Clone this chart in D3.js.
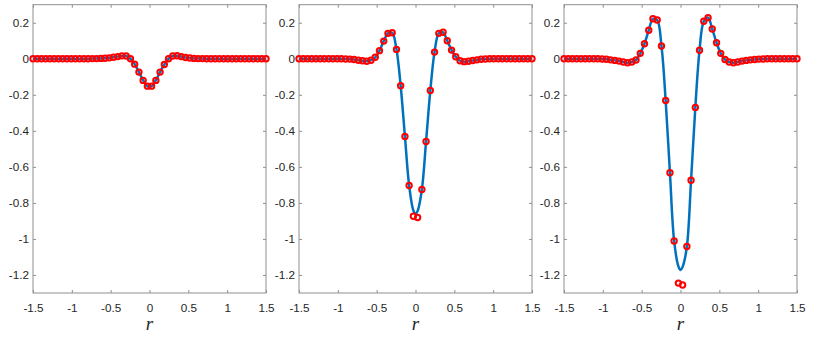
<!DOCTYPE html>
<html>
<head>
<meta charset="utf-8">
<script src="https://cdn.jsdelivr.net/npm/d3@7"></script>
<style>
  html, body { margin: 0; padding: 0; background: #fff; }
  svg { display: block; }
</style>
</head>
<body>
<svg id="chart" width="830" height="346"></svg>
<script>
// ---------- DATA ----------
const xTicks = [-1.5, -1, -0.5, 0, 0.5, 1, 1.5];
const xTickLabels = ["-1.5", "-1", "-0.5", "0", "0.5", "1", "1.5"];
const yTicks = [0.2, 0, -0.2, -0.4, -0.6, -0.8, -1, -1.2];
const yTickLabels = ["0.2", "0", "-0.2", "-0.4", "-0.6", "-0.8", "-1", "-1.2"];
const xLabel = "r";

// sample points (markers)
const xDots = [
  -1.500, -1.445, -1.391, -1.336, -1.282, -1.227, -1.173, -1.118, -1.064, -1.009,
  -0.955, -0.900, -0.845, -0.791, -0.736, -0.682, -0.627, -0.573, -0.518, -0.464,
  -0.409, -0.355, -0.300, -0.245, -0.191, -0.136, -0.082, -0.027, 0.027, 0.082,
  0.136, 0.191, 0.245, 0.300, 0.355, 0.409, 0.464, 0.518, 0.573, 0.627,
  0.682, 0.736, 0.791, 0.845, 0.900, 0.955, 1.009, 1.064, 1.118, 1.173,
  1.227, 1.282, 1.336, 1.391, 1.445, 1.500
];
const dotsA = [
  0, 0, 0, 0, 0, 0, 0, 0, 0, 0,
  0, 0, 0, 0, 0.001, 0.001, 0.002, 0.003, 0.005, 0.008,
  0.012, 0.016, 0.015, 0.000, -0.030, -0.074, -0.120, -0.152, -0.152, -0.120,
  -0.074, -0.032, 0.000, 0.015, 0.017, 0.012, 0.007, 0.004, 0.002, 0.001,
  0.001, 0, 0, 0, 0, 0, 0, 0, 0, 0,
  0, 0, 0, 0, 0, 0
];
const dotsB = [
  0, 0, 0, 0, 0, 0, 0, 0, 0, 0,
  0, -0.001, -0.002, -0.004, -0.008, -0.011, -0.014, -0.008, 0.008, 0.045,
  0.098, 0.141, 0.144, 0.052, -0.150, -0.431, -0.703, -0.874, -0.881, -0.726,
  -0.459, -0.176, 0.037, 0.141, 0.147, 0.100, 0.048, 0.011, -0.011, -0.016,
  -0.014, -0.010, -0.006, -0.003, -0.001, 0, 0, 0, 0, 0,
  0, 0, 0, 0, 0, 0
];
const dotsC = [
  0, 0, 0, 0, 0, 0, 0, 0, 0, -0.001,
  -0.003, -0.006, -0.009, -0.013, -0.018, -0.022, -0.018, -0.007, 0.030, 0.083,
  0.158, 0.222, 0.215, 0.071, -0.232, -0.633, -1.011, -1.245, -1.256, -1.042,
  -0.674, -0.270, 0.047, 0.208, 0.228, 0.165, 0.089, 0.030, -0.004, -0.018,
  -0.022, -0.018, -0.013, -0.009, -0.006, -0.004, -0.002, -0.001, 0, 0,
  0, 0, 0, 0, 0, 0
];

// continuous curve (line)
const xLine = [
  -1.500, -1.445, -1.391, -1.336, -1.282, -1.227, -1.173, -1.118, -1.064, -1.009,
  -0.955, -0.900, -0.845, -0.791, -0.736, -0.682, -0.627, -0.573, -0.518, -0.464,
  -0.409, -0.355, -0.300, -0.245, -0.191, -0.136, -0.082, -0.027, 0.000, 0.027, 0.082,
  0.136, 0.191, 0.245, 0.300, 0.355, 0.409, 0.464, 0.518, 0.573, 0.627,
  0.682, 0.736, 0.791, 0.845, 0.900, 0.955, 1.009, 1.064, 1.118, 1.173,
  1.227, 1.282, 1.336, 1.391, 1.445, 1.500
];
const lineA = [
  0, 0, 0, 0, 0, 0, 0, 0, 0, 0,
  0, 0, 0, 0, 0.001, 0.001, 0.002, 0.003, 0.005, 0.008,
  0.012, 0.016, 0.015, 0.000, -0.030, -0.074, -0.120, -0.152, -0.156, -0.152, -0.120,
  -0.074, -0.032, 0.000, 0.015, 0.017, 0.012, 0.007, 0.004, 0.002, 0.001,
  0.001, 0, 0, 0, 0, 0, 0, 0, 0, 0,
  0, 0, 0, 0, 0, 0
];
const lineB = [
  0, 0, 0, 0, 0, 0, 0, 0, 0, 0,
  0, -0.001, -0.002, -0.004, -0.008, -0.011, -0.014, -0.008, 0.008, 0.045,
  0.098, 0.141, 0.144, 0.052, -0.150, -0.431, -0.703, -0.843, -0.860, -0.845, -0.726,
  -0.459, -0.176, 0.037, 0.141, 0.147, 0.100, 0.048, 0.011, -0.011, -0.016,
  -0.014, -0.010, -0.006, -0.003, -0.001, 0, 0, 0, 0, 0,
  0, 0, 0, 0, 0, 0
];
const lineC = [
  0, 0, 0, 0, 0, 0, 0, 0, 0, -0.001,
  -0.003, -0.006, -0.009, -0.013, -0.018, -0.022, -0.018, -0.007, 0.030, 0.083,
  0.158, 0.222, 0.215, 0.071, -0.232, -0.633, -1.011, -1.152, -1.172, -1.155, -1.042,
  -0.674, -0.270, 0.047, 0.208, 0.228, 0.165, 0.089, 0.030, -0.004, -0.018,
  -0.022, -0.018, -0.013, -0.009, -0.006, -0.004, -0.002, -0.001, 0, 0,
  0, 0, 0, 0, 0, 0
];

// ---------- LAYOUT ----------
const panels = [
  { left: 33,  right: 266, dots: dotsA, line: lineA },
  { left: 299, right: 532, dots: dotsB, line: lineB },
  { left: 564, right: 797, dots: dotsC, line: lineC }
];
const plotTop = 4.7, plotBottom = 293;
const spineColor = "#8f8f8f";
const textColor = "#262626";
const font = "'Liberation Sans', Arial, Helvetica, sans-serif";

const svg = d3.select("#chart");
const y = d3.scaleLinear().domain([-1.3, 0.3]).range([plotBottom, plotTop]);

panels.forEach(p => {
  const x = d3.scaleLinear().domain([-1.5, 1.5]).range([p.left, p.right]);
  const g = svg.append("g");

  const fmtX = (d, i) => xTickLabels[i];
  const fmtY = (d, i) => yTickLabels[i];

  const ax = g.append("g").attr("transform", `translate(0,${plotBottom})`)
    .call(d3.axisBottom(x).tickValues(xTicks).tickFormat(fmtX).tickSizeInner(-3).tickSizeOuter(0).tickPadding(10.5));
  const axT = g.append("g").attr("transform", `translate(0,${plotTop})`)
    .call(d3.axisTop(x).tickValues(xTicks).tickFormat("").tickSizeInner(-3).tickSizeOuter(0));
  const ay = g.append("g").attr("transform", `translate(${p.left},0)`)
    .call(d3.axisLeft(y).tickValues(yTicks).tickFormat(fmtY).tickSizeInner(-3).tickSizeOuter(0).tickPadding(4));
  const ayR = g.append("g").attr("transform", `translate(${p.right},0)`)
    .call(d3.axisRight(y).tickValues(yTicks).tickFormat("").tickSizeInner(-3).tickSizeOuter(0));

  [ax, axT, ay, ayR].forEach(a => {
    a.select(".domain").remove();
    a.selectAll(".tick line").attr("stroke", spineColor);
    a.selectAll(".tick text").attr("fill", textColor)
      .style("font-family", font).style("font-size", "11.7px");
  });
  ax.selectAll(".tick text").attr("dy", "0.71em");

  // frame
  g.append("rect")
    .attr("x", p.left).attr("y", plotTop)
    .attr("width", p.right - p.left).attr("height", plotBottom - plotTop)
    .attr("fill", "none").attr("stroke", spineColor).attr("stroke-width", 1);

  // line
  const lineGen = d3.line()
    .x((d, i) => x(xLine[i]))
    .y(d => y(d))
    .curve(d3.curveCatmullRom.alpha(0.5));
  g.append("path")
    .datum(p.line)
    .attr("d", lineGen)
    .attr("fill", "none")
    .attr("stroke", "#0072BD")
    .attr("stroke-width", 2.5)
    .attr("stroke-linejoin", "round");

  // markers
  g.append("g").selectAll("circle")
    .data(p.dots)
    .join("circle")
    .attr("cx", (d, i) => x(xDots[i]))
    .attr("cy", d => y(d))
    .attr("r", 2.7)
    .attr("fill", "none")
    .attr("stroke", "#FF0000")
    .attr("stroke-width", 2);

  // x label
  g.append("text")
    .attr("x", x(0))
    .attr("y", 330)
    .attr("text-anchor", "middle")
    .attr("fill", textColor)
    .style("font-family", "'Liberation Serif', 'DejaVu Serif', serif")
    .style("font-style", "italic")
    .style("font-size", "19px")
    .text(xLabel);
});
</script>
</body>
</html>
